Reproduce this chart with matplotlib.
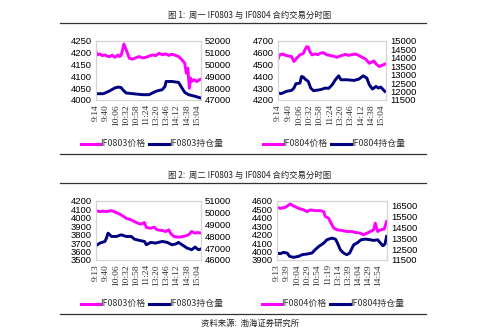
import matplotlib
matplotlib.use("Agg")
import matplotlib.pyplot as plt
import numpy as np

CJK = ['Noto Sans CJK SC', 'DejaVu Sans']

# ---------------- data ----------------
titles = ["图 1:  周一 IF0803 与 IF0804 合约交易分时图",
          "图 2:  周二 IF0803 与 IF0804 合约交易分时图"]
source = "资料来源:  渤海证券研究所"

ticks_a = ["9:14", "9:40", "10:06", "10:32", "10:58", "11:24", "13:20", "13:46", "14:12", "14:38", "15:04"]
ticks_b = ["9:13", "9:40", "10:06", "10:32", "10:58", "11:24", "13:20", "13:46", "14:12", "14:38", "15:04"]
ticks_c = ["9:13", "9:39", "10:04", "10:29", "10:54", "11:19", "13:14", "13:39", "14:04", "14:29", "14:54"]

# panel 1: Monday IF0803
p1_px = [0, 3, 10, 16, 23, 30, 36, 42, 48, 53, 57, 61, 65, 69, 72, 78, 86, 95, 104, 112, 120, 129, 137, 146, 154, 163, 171, 180, 188, 196, 204, 213, 222, 229, 233, 237, 241, 244, 247, 252, 256, 260, 264, 270]
p1_pv = [4205, 4191, 4195, 4188, 4191, 4185, 4184, 4190, 4181, 4186, 4191, 4184, 4190, 4215, 4237, 4212, 4177, 4173, 4180, 4184, 4178, 4181, 4186, 4191, 4188, 4198, 4192, 4195, 4189, 4194, 4190, 4184, 4170, 4156, 4114, 4135, 4050, 4093, 4079, 4086, 4083, 4078, 4083, 4088]
p1_ox = [0, 19, 27, 36, 48, 57, 65, 69, 78, 95, 120, 137, 154, 163, 171, 178, 181, 196, 213, 222, 229, 239, 256, 270]
p1_ov = [47534, 47534, 47646, 47787, 48011, 48095, 48050, 47870, 47590, 47534, 47450, 47450, 47730, 47815, 47870, 48150, 48570, 48570, 48490, 48010, 47646, 47450, 47310, 47170]

# panel 2: Monday IF0804
p2_px = [0, 4, 13, 19, 25, 34, 40, 47, 55, 64, 68, 72, 76, 78, 85, 93, 100, 106, 114, 123, 130, 136, 142, 148, 157, 163, 169, 176, 182, 189, 195, 202, 208, 220, 229, 237, 241, 246, 254, 263, 270]
p2_pv = [4546, 4582, 4590, 4578, 4574, 4568, 4526, 4554, 4582, 4596, 4630, 4652, 4648, 4624, 4582, 4590, 4584, 4596, 4601, 4582, 4578, 4574, 4568, 4562, 4574, 4580, 4587, 4578, 4582, 4586, 4590, 4578, 4568, 4546, 4511, 4525, 4531, 4506, 4483, 4497, 4506]
p2_ox = [0, 8, 21, 34, 40, 45, 55, 59, 64, 68, 76, 82, 89, 106, 119, 127, 136, 144, 152, 158, 174, 191, 203, 214, 223, 229, 237, 246, 252, 258, 268]
p2_ov = [11913, 11874, 12011, 12070, 12208, 12463, 12503, 12896, 12850, 12739, 12601, 12208, 12051, 12110, 12208, 12188, 12404, 12700, 12935, 12700, 12700, 12660, 12740, 12935, 12798, 12404, 12149, 12306, 12208, 12267, 12011]

# panel 3: Tuesday IF0803
p3_px = [0, 10, 18, 27, 34, 40, 53, 65, 78, 91, 99, 108, 116, 125, 130, 141, 150, 158, 171, 180, 188, 192, 201, 213, 226, 239, 247, 252, 256, 262, 270]
p3_pv = [4086, 4074, 4080, 4074, 4082, 4086, 4062, 4035, 3995, 3976, 3956, 3937, 3925, 3944, 3885, 3877, 3889, 3858, 3850, 3838, 3858, 3819, 3779, 3771, 3779, 3799, 3838, 3825, 3819, 3826, 3819]
p3_ox = [0, 10, 23, 27, 31, 40, 53, 65, 78, 91, 99, 112, 125, 130, 141, 154, 171, 184, 196, 205, 213, 222, 235, 247, 256, 264, 270]
p3_ov = [47208, 47433, 47573, 47854, 48275, 47994, 47994, 48135, 47994, 47994, 47770, 47657, 47573, 47292, 47489, 47433, 47573, 47489, 47292, 47348, 47489, 47292, 47011, 46870, 47096, 46870, 46927]

# panel 4: Tuesday IF0804
p4_px = [0, 8, 15, 21, 29, 33, 41, 53, 66, 74, 82, 94, 107, 115, 119, 127, 133, 140, 148, 160, 172, 185, 193, 205, 213, 222, 230, 238, 242, 248, 255, 264, 270]
p4_pv = [4525, 4513, 4520, 4525, 4553, 4565, 4541, 4513, 4494, 4474, 4494, 4486, 4486, 4474, 4415, 4396, 4337, 4278, 4258, 4250, 4238, 4238, 4226, 4219, 4199, 4219, 4238, 4258, 4337, 4238, 4258, 4266, 4356]
p4_ox = [0, 8, 16, 25, 31, 41, 53, 62, 74, 86, 94, 103, 115, 123, 135, 144, 149, 156, 164, 172, 179, 189, 197, 207, 218, 230, 238, 248, 255, 261, 266, 270]
p4_ov = [12140, 12080, 12200, 12140, 11835, 11744, 11835, 11988, 12049, 12140, 12446, 12751, 13056, 13361, 13513, 13422, 13056, 12446, 12140, 11988, 12140, 12903, 13056, 13361, 13422, 13361, 13300, 13361, 13056, 12812, 12964, 13666]

panels = [
    dict(rect=[0.192, 0.7024, 0.210, 0.1756], px=p1_px, pv=p1_pv, ox=p1_ox, ov=p1_ov,
         ylim=(4000, 4250), yticks=[4000, 4050, 4100, 4150, 4200, 4250],
         y2lim=(47000, 52000), y2ticks=[47000, 48000, 49000, 50000, 51000, 52000],
         xt=ticks_a, step=26, lab=("IF0803价格", "IF0803持仓量")),
    dict(rect=[0.556, 0.7024, 0.216, 0.1756], px=p2_px, pv=p2_pv, ox=p2_ox, ov=p2_ov,
         ylim=(4200, 4700), yticks=[4200, 4300, 4400, 4500, 4600, 4700],
         y2lim=(11500, 15000), y2ticks=[11500, 12000, 12500, 13000, 13500, 14000, 14500, 15000],
         xt=ticks_a, step=26, lab=("IF0804价格", "IF0804持仓量")),
    dict(rect=[0.192, 0.2262, 0.210, 0.1756], px=p3_px, pv=p3_pv, ox=p3_ox, ov=p3_ov,
         ylim=(3500, 4200), yticks=[3500, 3600, 3700, 3800, 3900, 4000, 4100, 4200],
         y2lim=(46000, 51000), y2ticks=[46000, 47000, 48000, 49000, 50000, 51000],
         xt=ticks_b, step=26, lab=("IF0803价格", "IF0803持仓量")),
    dict(rect=[0.554, 0.2262, 0.220, 0.1756], px=p4_px, pv=p4_pv, ox=p4_ox, ov=p4_ov,
         ylim=(3900, 4600), yticks=[3900, 4000, 4100, 4200, 4300, 4400, 4500, 4600],
         y2lim=(11500, 16930), y2ticks=[11500, 12500, 13500, 14500, 15500, 16500],
         xt=ticks_c, step=25, lab=("IF0804价格", "IF0804持仓量")),
]

PINK = "#FF00FF"
NAVY = "#000080"

fig = plt.figure(figsize=(5.0, 3.36), dpi=100)

for p in panels:
    ax = fig.add_axes(p["rect"])
    ax2 = ax.twinx()
    ax.plot(p["px"], p["pv"], color=PINK, lw=2.1, solid_joinstyle="round")
    ax2.plot(p["ox"], p["ov"], color=NAVY, lw=2.1, solid_joinstyle="round")
    ax.set_xlim(0, 271)
    ax.set_ylim(*p["ylim"])
    ax.set_yticks(p["yticks"])
    ax.set_yticklabels([str(v) for v in p["yticks"]], fontsize=6.8, family="Liberation Sans")
    ax2.set_ylim(*p["y2lim"])
    ax2.set_yticks(p["y2ticks"])
    ax2.set_yticklabels([str(v) for v in p["y2ticks"]], fontsize=6.8, family="Liberation Sans")
    xpos = [i * p["step"] for i in range(len(p["xt"]))]
    ax.set_xticks(xpos)
    ax.set_xticklabels(p["xt"], rotation=90, fontsize=6.8, family="Liberation Serif", color="#333333")
    for a in (ax, ax2):
        a.tick_params(length=0, pad=3)
        for s in a.spines.values():
            s.set_color("#d4d4d4")
            s.set_linewidth(0.8)
    # legend
    x0, y0, w, h = p["rect"]
    ly = y0 - 0.13
    lx = x0 - 0.03
    fig.add_artist(plt.Line2D([lx, lx + 0.037], [ly, ly], color=PINK, lw=2.2, transform=fig.transFigure))
    fig.text(lx + 0.038, ly, p["lab"][0], fontsize=6.4, family=CJK, va="center", ha="left", color="#333333")
    lx2 = lx + 0.135
    fig.add_artist(plt.Line2D([lx2, lx2 + 0.04], [ly, ly], color=NAVY, lw=2.2, transform=fig.transFigure))
    fig.text(lx2 + 0.042, ly, p["lab"][1], fontsize=6.4, family=CJK, va="center", ha="left", color="#333333")

# titles and rules
for t, ty, l1, l2 in [(titles[0], 1 - 15 / 336, 1 - 23 / 336, 1 - 154 / 336),
                      (titles[1], 1 - 175 / 336, 1 - 183 / 336, 1 - 314 / 336)]:
    fig.text(0.5, ty, t, fontsize=6, family=CJK, ha="center", va="center", color="#222222")
    for ly in (l1, l2):
        fig.add_artist(plt.Line2D([0.12, 0.852], [ly, ly], color="#333333", lw=0.9, transform=fig.transFigure))

fig.text(0.5, 1 - 323 / 336, source, fontsize=6, family=CJK, ha="center", va="center", color="#222222")

fig.savefig("out.png", dpi=100)
